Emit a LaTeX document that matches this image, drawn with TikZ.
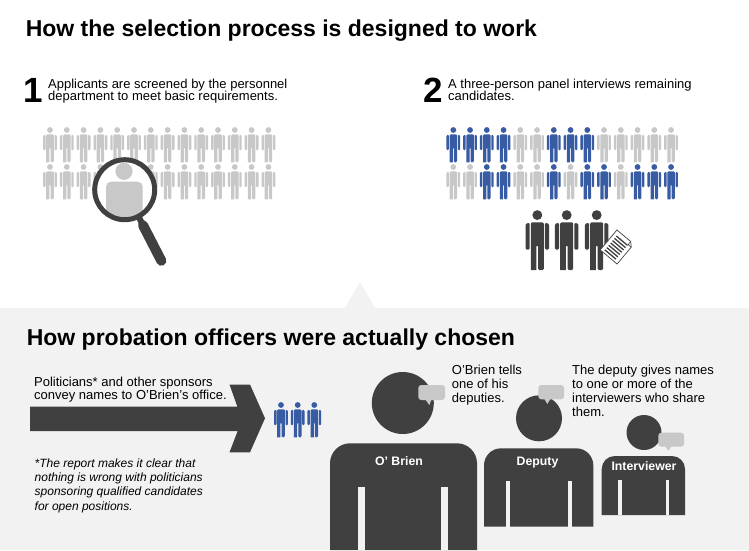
\documentclass[tikz,border=0pt]{standalone}
\usepackage{fontspec}
\setmainfont{Liberation Sans}
\usetikzlibrary{calc}
\definecolor{lgray}{RGB}{200,200,200}
\definecolor{pblue}{RGB}{56,92,163}
\definecolor{dgray}{RGB}{64,64,64}
\definecolor{panel}{RGB}{242,242,242}

\tikzset{
  pics/person/.style={code={
    \fill (0,-32.3) circle (2.9);
    \fill[rounded corners=1.2] (-6.9,-12) -- (-6.9,-27.2) -- (-4.5,-27.8) -- (-4.5,-12) -- cycle;
    \fill[rounded corners=1.2] (6.9,-12) -- (6.9,-27.2) -- (4.5,-27.8) -- (4.5,-12) -- cycle;
    \fill[rounded corners=1.2] (-3.8,0) -- (-3.8,-28) -- (3.8,-28) -- (3.8,0) -- (0.55,0) [sharp corners] -- (0.55,-14) -- (-0.55,-14) -- (-0.55,0) -- cycle;
  }},
}

\begin{document}
\begin{tikzpicture}[x=1pt,y=-1pt,
    title/.style={font=\bfseries\fontsize{23}{27}\selectfont,inner sep=0,anchor=base west},
    num/.style={font=\bfseries\fontsize{35}{35}\selectfont,inner sep=0,anchor=base west},
    txt/.style={font=\fontsize{13}{14}\selectfont,inner sep=0,anchor=base west,align=left},
    lbl/.style={font=\bfseries\fontsize{12.3}{14}\selectfont,inner sep=0,anchor=base,text=white},
    bubble/.style={fill=lgray,rounded corners=3}]
    % 背景
    \fill[white] (0,0) rectangle (749,550);

    % 1: 書類審査
    \foreach \i in {0,...,13} {
        \pic[color=lgray] at (50+16.8*\i,162.3) {person};
        \pic[color=lgray] at (50+16.8*\i,199.3) {person};
    }
    \coordinate (lens) at (124.7,189.7);
    \coordinate (hend) at (163,264);
    \fill[white] (lens) circle (32.5);
    \begin{scope}
        \clip (lens) circle (30);
        \fill[lgray] (124,171.3) circle (8.6);
        \fill[lgray,rounded corners=5] (106,240) -- (106,181.7) -- (142.7,181.7) -- (142.7,240) -- cycle;
    \end{scope}
    \draw[dgray,line width=5] (lens) circle (30);
    \draw[dgray,line width=6] ($(lens)!30pt!(hend)$) -- ($(lens)!38pt!(hend)$);
    \draw[lgray,line width=6] ($(lens)!38pt!(hend)$) -- ($(lens)!39.5pt!(hend)$);
    \draw[dgray,line width=10,line cap=round] ($(lens)!40pt!(hend)$) -- ($(lens)!80pt!(hend)$);

    % 2: 面接
    \foreach \c [count=\i from 0] in {pblue,pblue,pblue,pblue,lgray,lgray,pblue,pblue,pblue,lgray,lgray,lgray,lgray,lgray}
        \pic[color=\c] at (453.3+16.75*\i,162.3) {person};
    \foreach \c [count=\i from 0] in {lgray,lgray,pblue,pblue,lgray,lgray,pblue,lgray,pblue,pblue,lgray,pblue,pblue,pblue}
        \pic[color=\c] at (453.3+16.75*\i,199.3) {person};
    \foreach \px in {537.3,566.7,596.7}
        \pic[color=dgray,scale=1.7] at (\px,270) {person};
    \begin{scope}[shift={(617,247)},rotate=-40]
        \filldraw[fill=white,draw=dgray,line width=0.7] (-11,-13) -- (7,-13) -- (11,-9) -- (11,13) -- (-11,13) -- cycle;
        \draw[dgray,line width=0.6] (7,-13) -- (7,-9) -- (11,-9);
        \foreach \yy in {-8,-5,...,10}
            \draw[dgray,line width=1.3] (-7.5,\yy) -- (7,\yy);
    \end{scope}

    % 下のパネル
    \fill[panel] (0,308) -- (345,308) -- (360,282) -- (375,308) -- (749,308) -- (749,550) -- (0,550) -- cycle;

    % 文字
    \node[title] (h1) at (25.6,36) {How the selection process is designed to work};
    \node[num] (n1) at (23,102.7) {1};
    \node[txt,font=\fontsize{13}{12.4}\selectfont] (s1) at (48,100.7) {Applicants are screened by the personnel\\department to meet basic requirements.};
    \node[num] (n2) at (423,102.7) {2};
    \node[txt,font=\fontsize{13}{12.4}\selectfont] (s2) at (448,100.7) {A three-person panel interviews remaining\\candidates.};
    \node[title] (h2) at (26.6,345) {How probation officers were actually chosen};
    \node[txt,font=\fontsize{13}{13.3}\selectfont] (s3) at (34,399.3) {Politicians* and other sponsors\\convey names to O’Brien’s office.};
    \node[txt,font=\itshape\fontsize{12}{14.3}\selectfont] (note) at (34.5,510) {*The report makes it clear that\\nothing is wrong with politicians\\sponsoring qualified candidates\\for open positions.};
    \node[txt] (s4) at (451.7,402.3) {O’Brien tells\\one of his\\deputies.};
    \node[txt] (s5) at (572,416) {The deputy gives names\\to one or more of the\\interviewers who share\\them.};

    % 矢印
    \fill[dgray] (30,406.5) -- (237.3,406.5) -- (229.5,384.5) -- (250,384.5) -- (265,418.3) -- (250,452.3) -- (229.5,452.3) -- (237.7,431) -- (30,431) -- cycle;
    \foreach \px in {281,297.7,314.3}
        \pic[color=pblue] at (\px,437.3) {person};

    % オブライエン
    \fill[dgray] (402.8,403) circle (31);
    \fill[dgray,rounded corners=20] (330,550) -- (330,443.3) -- (477,443.3) -- (477,550);
    \fill[panel] (358,486.7) rectangle (364.5,550);
    \fill[panel] (441,486.7) rectangle (447.7,550);
    \node[lbl] (obrien) at (399,465) {O’ Brien};
    % 副官
    \fill[dgray] (539,418.3) circle (23);
    \fill[dgray,rounded corners=17] (484,526.7) -- (484,448.3) -- (593.3,448.3) -- (593.3,526.7);
    \fill[panel] (505.7,480.7) rectangle (510,526.7);
    \fill[panel] (567.7,480.7) rectangle (572.3,526.7);
    \node[lbl] (deputy) at (537.5,465) {Deputy};
    % 面接官
    \fill[dgray] (644,432.5) circle (17.5);
    \fill[dgray,rounded corners=13] (601.7,515) -- (601.7,456) -- (685,456) -- (685,515);
    \fill[panel] (618.3,480) rectangle (621.7,515);
    \fill[panel] (666,480) rectangle (669.3,515);
    \node[lbl] (interviewer) at (644,470.7) {Interviewer};

    % 吹き出し
    \fill[bubble] (418.3,385) rectangle (445,400);
    \fill[lgray] (425,399) -- (429.3,405) -- (431.7,399) -- cycle;
    \fill[bubble] (538.3,385) rectangle (564,399.3);
    \fill[lgray] (544,398.5) -- (547.3,404) -- (550.7,398.5) -- cycle;
    \fill[bubble] (658.3,432.7) rectangle (684,446.7);
    \fill[lgray] (665,446) -- (668.3,450.7) -- (671.7,446) -- cycle;
\end{tikzpicture}
\end{document}
